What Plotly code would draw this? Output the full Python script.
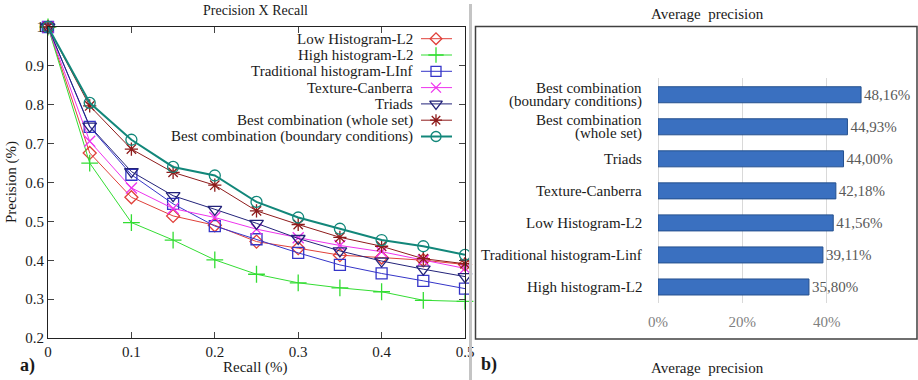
import plotly.graph_objects as go

# ---------------- data ----------------
recall = [0, 0.05, 0.1, 0.15, 0.2, 0.25, 0.3, 0.35, 0.4, 0.45, 0.5]

low_hist_l2 = [1.0, 0.676, 0.562, 0.514, 0.490, 0.448, 0.431, 0.413, 0.407, 0.400, 0.389]
high_hist_l2 = [1.0, 0.650, 0.497, 0.452, 0.401, 0.364, 0.342, 0.329, 0.319, 0.297, 0.294]
trad_hist_linf = [1.0, 0.743, 0.620, 0.545, 0.488, 0.454, 0.419, 0.388, 0.366, 0.347, 0.327]
texture_canberra = [1.0, 0.706, 0.586, 0.533, 0.510, 0.480, 0.458, 0.438, 0.422, 0.400, 0.379]
triads = [1.0, 0.745, 0.628, 0.566, 0.531, 0.495, 0.456, 0.424, 0.398, 0.377, 0.358]
best_whole = [1.0, 0.797, 0.686, 0.626, 0.593, 0.527, 0.492, 0.459, 0.436, 0.404, 0.391]
best_boundary = [1.0, 0.805, 0.710, 0.640, 0.618, 0.550, 0.510, 0.481, 0.452, 0.436, 0.414]

series_names = [
    "Low Histogram-L2",
    "High histogram-L2",
    "Traditional histogram-LInf",
    "Texture-Canberra",
    "Triads",
    "Best combination (whole set)",
    "Best combination (boundary conditions)",
]

x_ticks = [0, 0.1, 0.2, 0.3, 0.4, 0.5]
x_tick_labels = ["0", "0.1", "0.2", "0.3", "0.4", "0.5"]
y_ticks = [0.2, 0.3, 0.4, 0.5, 0.6, 0.7, 0.8, 0.9, 1.0]
y_tick_labels = ["0.2", "0.3", "0.4", "0.5", "0.6", "0.7", "0.8", "0.9", "1"]

bar_categories = [
    "High histogram-L2",
    "Traditional histogram-Linf",
    "Low Histogram-L2",
    "Texture-Canberra",
    "Triads",
    "Best combination<br>(whole set)",
    "Best combination<br>(boundary conditions)",
]
bar_values = [35.80, 39.11, 41.56, 42.18, 44.00, 44.93, 48.16]
bar_ticks = [0, 20, 40, 60]
bar_tick_labels = ["0%", "20%", "40%", ""]

# ---------------- styling ----------------
FONT = "Liberation Serif, Times New Roman, serif"
W, H = 918, 380


def px_x(p):
    """window pixel -> paper x"""
    return p / W


def px_y(p):
    """window pixel -> paper y"""
    return 1 - p / H


styles = [
    dict(color="#e0403a", symbol="diamond-open", size=10, width=1),
    dict(color="#33dd33", symbol="cross-thin-open", size=12, width=1),
    dict(color="#3535c8", symbol="square-open", size=11, width=1),
    dict(color="#ee33ee", symbol="x-thin-open", size=11, width=1),
    dict(color="#23237a", symbol="triangle-down-open", size=12, width=1),
    dict(color="#8e1b1b", symbol="asterisk-open", size=11, width=1),
    dict(color="#12877a", symbol="circle-open", size=11, width=2),
]
all_series = [low_hist_l2, high_hist_l2, trad_hist_linf, texture_canberra,
              triads, best_whole, best_boundary]

fig = go.Figure()

for name, vals, st in zip(series_names, all_series, styles):
    fig.add_trace(go.Scatter(
        x=recall, y=vals, name=name, mode="lines+markers",
        line=dict(color=st["color"], width=st["width"]),
        marker=dict(symbol=st["symbol"], size=st["size"], color=st["color"],
                    line=dict(color=st["color"], width=1.3)),
        cliponaxis=False, showlegend=False, xaxis="x", yaxis="y",
    ))

# legend keys (gnuplot style: text right-aligned, key sample on the right)
LEG_TEXT_RIGHT = 415
LEG_LINE_X0, LEG_LINE_X1, LEG_MARK_X = 421, 452, 436
LEG_TOP, LEG_STEP = 38.7, 16.3
annotations = []
for i, (name, st) in enumerate(zip(series_names, styles)):
    yc = LEG_TOP + i * LEG_STEP
    fig.add_trace(go.Scatter(
        x=[LEG_LINE_X0, LEG_LINE_X1], y=[yc, yc], mode="lines",
        line=dict(color=st["color"], width=st["width"]),
        showlegend=False, hoverinfo="skip", xaxis="x3", yaxis="y3",
        cliponaxis=False,
    ))
    fig.add_trace(go.Scatter(
        x=[LEG_MARK_X], y=[yc], mode="markers",
        marker=dict(symbol=st["symbol"], size=st["size"] - 1, color=st["color"],
                    line=dict(color=st["color"], width=1.3)),
        showlegend=False, hoverinfo="skip", xaxis="x3", yaxis="y3",
        cliponaxis=False,
    ))
    annotations.append(dict(
        text=name, x=px_x(LEG_TEXT_RIGHT), y=px_y(yc), xref="paper",
        yref="paper", xanchor="right", yanchor="middle", showarrow=False,
        font=dict(size=15),
    ))

bar_text = [f"{v:.2f}".replace(".", ",") + "%" for v in bar_values]
fig.add_trace(go.Bar(
    y=bar_categories, x=bar_values, orientation="h",
    marker=dict(color="#3a70c0", line=dict(color="#25508e", width=1)),
    width=0.5, text=bar_text, textposition="outside",
    textfont=dict(family=FONT, size=15, color="#595959"),
    cliponaxis=False, showlegend=False, xaxis="x2", yaxis="y2",
))

# category labels for bar chart (tight two-line spacing)
for cat in bar_categories:
    lines = cat.split("<br>")
    n = len(lines)
    for j, ln in enumerate(lines):
        shift = (n - 1) * 6.75 - j * 13.5
        annotations.append(dict(
            text=ln, x=px_x(644), y=cat, xref="paper", yref="y2",
            xanchor="right", yanchor="middle", yshift=shift,
            showarrow=False, font=dict(size=15, color="#1a1a1a"),
        ))


def label(text, x, y, size=15, angle=0):
    return dict(text=text, x=px_x(x), y=px_y(y), xref="paper", yref="paper",
                xanchor="center", yanchor="middle", showarrow=False,
                textangle=angle, font=dict(size=size))


annotations += [
    label("Precision X Recall", 255, 11, 14),
    label("Recall (%)", 255, 367),
    label("Precision (%)", 12, 182, angle=-90),
    label("<b>a)</b>", 27, 365, 18),
    label("Average  precision", 707, 14),
    label("Average  precision", 707, 368),
    label("<b>b)</b>", 489, 364, 18),
]

fig.update_layout(
    width=W, height=H, margin=dict(l=0, r=0, t=0, b=0, autoexpand=False),
    paper_bgcolor="white", plot_bgcolor="rgba(0,0,0,0)",
    font=dict(family=FONT, size=15, color="#1a1a1a"),
    showlegend=False, hovermode=False,
    xaxis=dict(
        domain=[px_x(48), px_x(465)], range=[0, 0.5],
        tickvals=x_ticks, ticktext=x_tick_labels,
        ticks="inside", ticklen=6, mirror="allticks", showline=True,
        linecolor="#222", linewidth=1, showgrid=False, zeroline=False,
        tickfont=dict(size=15), anchor="y", automargin=False,
    ),
    yaxis=dict(
        domain=[px_y(338), px_y(27)], range=[0.2, 1.0],
        tickvals=y_ticks, ticktext=y_tick_labels,
        ticks="inside", ticklen=6, mirror="allticks", showline=True,
        linecolor="#222", linewidth=1, showgrid=False, zeroline=False,
        tickfont=dict(size=15), anchor="x", automargin=False,
    ),
    xaxis2=dict(
        domain=[px_x(658), px_x(911)], range=[0, 60],
        tickvals=bar_ticks, ticktext=bar_tick_labels,
        showgrid=True, gridcolor="#d9d9d9", gridwidth=1,
        zeroline=True, zerolinecolor="#d9d9d9", zerolinewidth=1,
        showline=False, ticks="", ticklabelstandoff=8,
        tickfont=dict(size=15, color="#7f7f7f"), anchor="y2",
        automargin=False,
    ),
    yaxis2=dict(
        domain=[px_y(303), px_y(78)], type="category",
        showgrid=False, zeroline=False, showline=False, ticks="",
        showticklabels=False, anchor="x2", automargin=False,
    ),
    xaxis3=dict(
        domain=[0, 1], range=[0, W],
        visible=False, fixedrange=True, anchor="y3", automargin=False,
    ),
    yaxis3=dict(
        domain=[0, 1], range=[H, 0],
        visible=False, fixedrange=True, anchor="x3", automargin=False,
    ),
    shapes=[
        dict(type="line", xref="paper", yref="paper",
             x0=px_x(470.5), x1=px_x(470.5), y0=px_y(4), y1=0,
             line=dict(color="#c4c4c4", width=3)),
        dict(type="rect", xref="paper", yref="paper",
             x0=px_x(475.5), x1=px_x(917), y0=px_y(339), y1=px_y(26.5),
             line=dict(color="#404040", width=1.5)),
    ],
    annotations=annotations,
)

# the page's default <body> margin would shift the fixed-size figure
fig.write_html("out.html", config={"displayModeBar": False, "staticPlot": True},
               post_script="document.body.style.margin='0';")
